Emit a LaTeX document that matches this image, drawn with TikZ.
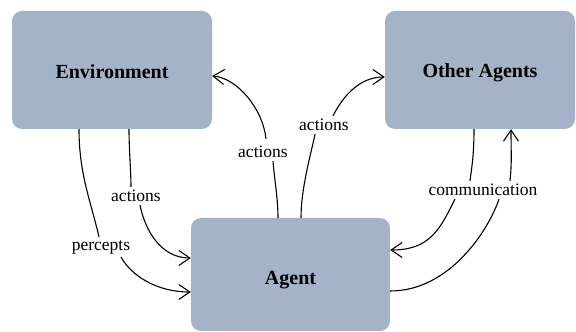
\documentclass[tikz,border=0pt]{standalone}
\usepackage{fontspec}
\setmainfont{Liberation Serif}
\usetikzlibrary{arrows.meta}
\definecolor{boxfill}{RGB}{165,179,200}
\begin{document}
\begin{tikzpicture}[x=1pt,y=1pt,
  box/.style={fill=boxfill, rounded corners=10pt, font=\fontsize{20}{24}\selectfont\bfseries, inner sep=0pt},
  lbl/.style={font=\fontsize{17.5}{21}\selectfont, inner sep=3pt},
  conn/.style={line width=1.1pt},
  arr/.style={conn, -{Straight Barb[length=11pt,width=15pt]}}]
\useasboundingbox (0,0) rectangle (576,332);
\node[box, minimum width=200pt, minimum height=118pt] (env) at (112,262) {\raisebox{-2pt}[\height][\depth]{Environment}};
\node[box, minimum width=190pt, minimum height=118pt] (oth) at (480,262) {\raisebox{-3pt}[\height][\depth]{Other Agents}};
\node[box, minimum width=199pt, minimum height=113pt] (agt) at (290.5,57.5) {\raisebox{-6pt}[\height][\depth]{Agent}};
\node[lbl] (lp) at (101,85) {percepts};
\node[lbl] (la1) at (136,136) {actions};
\node[lbl] (la2) at (263,180) {actions};
\node[lbl] (la3) at (324,207) {actions};
\node[lbl] (lc) at (483,142) {communication};
% percepts
\draw[conn] ([xshift=-33pt]env.south) .. controls +(0,-45) and +(-8,35) .. ([xshift=-2pt]lp.north);
\draw[arr] ([xshift=20pt]lp.south) .. controls +(10,-18) and +(-35,0) .. ([yshift=-17.5pt]agt.west);
% actions env -> agent
\draw[conn] ([xshift=17pt]env.south) .. controls +(0,-20) and +(0,15) .. ([xshift=-5pt]la1.north);
\draw[arr] ([xshift=4pt]la1.south) .. controls +(5,-25) and +(-30,0) .. ([yshift=16.5pt]agt.west);
% actions agent -> env
\draw[conn] ([xshift=-12.5pt]agt.north) .. controls +(0,20) and +(1,-15) .. ([xshift=10pt]la2.south);
\draw[arr] ([xshift=3pt,yshift=4pt]la2.north) .. controls +(-3,30) and +(25,-2) .. ([yshift=-6pt]env.east);
% actions agent -> other agents
\draw[conn] ([xshift=10.5pt]agt.north) .. controls +(0,30) and +(-4,-20) .. ([xshift=-9pt]la3.south);
\draw[arr] ([xshift=9pt]la3.north) .. controls +(10,20) and +(-25,0) .. ([yshift=-7pt]oth.west);
% communication
\draw[conn] ([xshift=-6pt]oth.south) .. controls +(0,-25) and +(2,15) .. ([xshift=-13pt]lc.north);
\draw[arr] ([xshift=-28pt]lc.south) .. controls +(-15,-30) and +(40,0) .. ([yshift=24.5pt]agt.east);
\draw[conn] ([yshift=-16.5pt]agt.east) .. controls +(60,0) and +(-10,-30) .. ([xshift=16pt]lc.south);
\draw[arr] ([xshift=27pt]lc.north) .. controls +(2,20) and +(0,-25) .. ([xshift=31pt]oth.south);
\end{tikzpicture}
\end{document}
